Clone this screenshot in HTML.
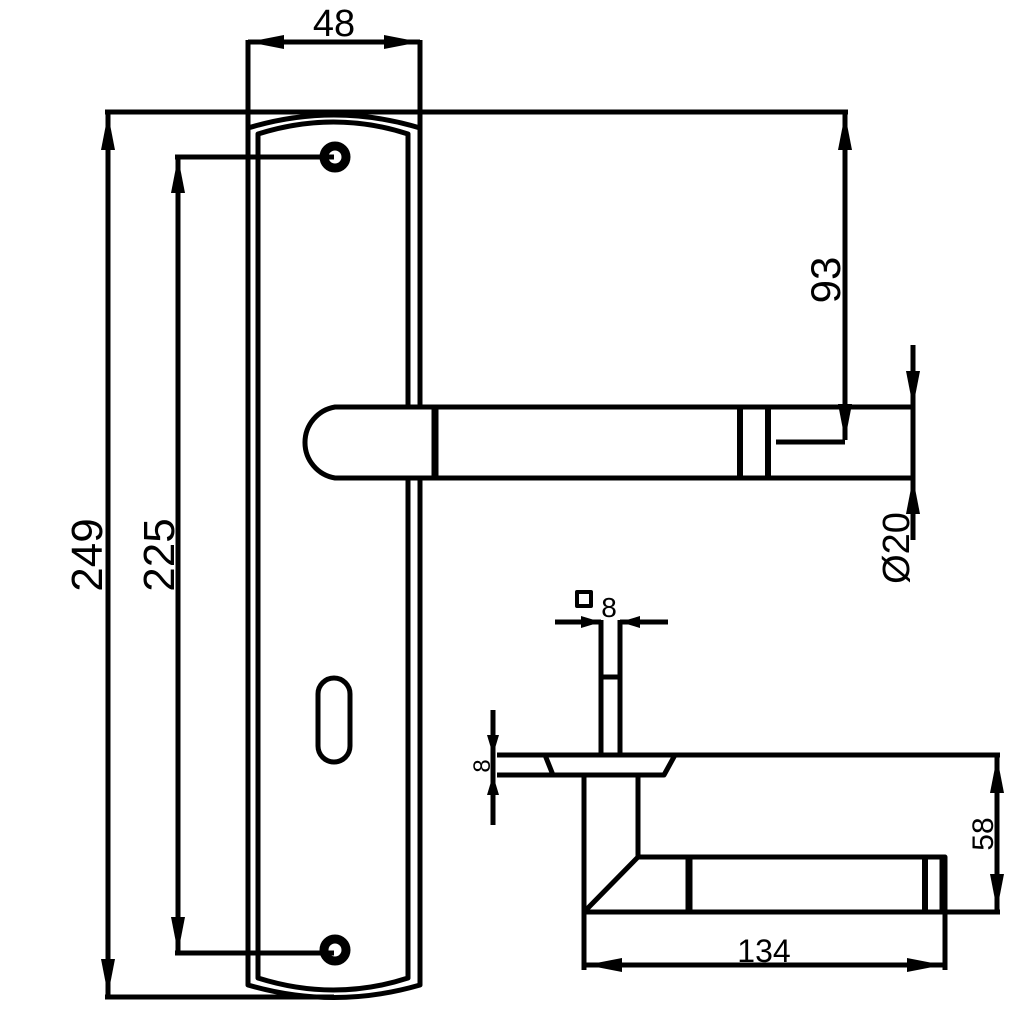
<!DOCTYPE html>
<html><head><style>body{margin:0;background:#fff}svg{display:block}</style></head><body>
<svg width="1024" height="1024" viewBox="0 0 1024 1024" xmlns="http://www.w3.org/2000/svg">
<defs>
<marker id="a" viewBox="0 0 20 12" refX="20" refY="6" markerWidth="20" markerHeight="12" markerUnits="userSpaceOnUse" orient="auto-start-reverse"><path d="M0,0L20,6L0,12z" fill="#000"/></marker>
<marker id="b" viewBox="0 0 36 14" refX="36" refY="7" markerWidth="36" markerHeight="14" markerUnits="userSpaceOnUse" orient="auto-start-reverse"><path d="M0,0L36,7L0,14z" fill="#000"/></marker>
</defs>
<g fill="none" stroke="#000" stroke-width="5" stroke-linejoin="round">
<!-- plate -->
<path d="M248,128 Q334,102 420,128 L420,985 Q334,1010 248,985 Z"/>
<path d="M258,134 Q334,110 408,134 L408,978 Q334,1002 258,978 Z"/>
<!-- dims -->
<line x1="105" y1="112" x2="848" y2="112"/>
<line x1="248" y1="40" x2="248" y2="128"/>
<line x1="420" y1="40" x2="420" y2="128"/>
<line x1="248" y1="42" x2="420" y2="42" marker-start="url(#b)" marker-end="url(#b)"/>
<line x1="108" y1="114" x2="108" y2="995" marker-start="url(#b)" marker-end="url(#b)"/>
<line x1="105" y1="997" x2="334" y2="997"/>
<line x1="178" y1="157" x2="178" y2="953" marker-start="url(#b)" marker-end="url(#b)"/>
<line x1="175" y1="157" x2="334" y2="157"/>
<line x1="175" y1="953" x2="334" y2="953"/>
<circle cx="335" cy="157" r="11" stroke-width="9"/>
<circle cx="335" cy="950" r="11" stroke-width="9"/>
<rect x="318" y="678" width="32" height="84" rx="16"/>
<!-- handle -->
<path d="M913,407 L335,407 A36,36 0 0 0 335,478 L913,478 Z" fill="#fff"/>
<line x1="435" y1="407" x2="435" y2="478" stroke-width="7"/>
<line x1="740" y1="407" x2="740" y2="478" stroke-width="6"/>
<line x1="768" y1="407" x2="768" y2="478" stroke-width="6"/>
<line x1="845" y1="114" x2="845" y2="440" marker-start="url(#b)" marker-end="url(#b)"/>
<line x1="776" y1="442" x2="845" y2="442"/>
<line x1="913" y1="345" x2="913" y2="407" marker-end="url(#b)"/>
<line x1="913" y1="478" x2="913" y2="540" marker-start="url(#b)"/>
<line x1="913" y1="407" x2="913" y2="478"/>
<!-- side view -->
<line x1="601" y1="620" x2="601" y2="755"/>
<line x1="620" y1="620" x2="620" y2="755"/>
<line x1="601" y1="677" x2="620" y2="677"/>
<line x1="555" y1="622" x2="601" y2="622" marker-end="url(#a)"/>
<line x1="668" y1="622" x2="620" y2="622" marker-end="url(#a)"/>
<rect x="577" y="592" width="14" height="14" stroke-width="4"/>
<line x1="497" y1="755" x2="1000" y2="755"/>
<path d="M545,755 L553,775 L664,775 L675,755"/>
<line x1="497" y1="775" x2="553" y2="775"/>
<path d="M584,775 L584,912 L945,912 L945,857 L638,857 L638,775"/>
<line x1="638" y1="857" x2="586" y2="910"/>
<line x1="689" y1="857" x2="689" y2="912" stroke-width="7"/>
<line x1="925" y1="857" x2="925" y2="912" stroke-width="6"/>
<line x1="943" y1="857" x2="943" y2="912" stroke-width="7"/>
<line x1="945" y1="912" x2="1000" y2="912"/>
<line x1="997" y1="757" x2="997" y2="910" marker-start="url(#b)" marker-end="url(#b)"/>
<line x1="584" y1="912" x2="584" y2="970"/>
<line x1="945" y1="912" x2="945" y2="970"/>
<line x1="586" y1="965" x2="943" y2="965" marker-start="url(#b)" marker-end="url(#b)"/>
<line x1="493" y1="710" x2="493" y2="755" marker-end="url(#a)"/>
<line x1="493" y1="825" x2="493" y2="775" marker-end="url(#a)"/>
<line x1="493" y1="755" x2="493" y2="775"/>
</g>
<g font-family="Liberation Sans, sans-serif" fill="#000" text-anchor="middle">
<text x="334" y="36" font-size="38">48</text>
<text transform="translate(102,555) rotate(-90)" font-size="44">249</text>
<text transform="translate(174,555) rotate(-90)" font-size="44">225</text>
<text transform="translate(840,280) rotate(-90)" font-size="42">93</text>
<text transform="translate(909,548) rotate(-90)" font-size="38">Ø20</text>
<text x="609" y="617" font-size="28">8</text>
<text transform="translate(993,834) rotate(-90)" font-size="30">58</text>
<text x="764" y="962" font-size="32">134</text>
<text transform="translate(490,766) rotate(-90)" font-size="24">8</text>
</g>
</svg>
</body></html>
